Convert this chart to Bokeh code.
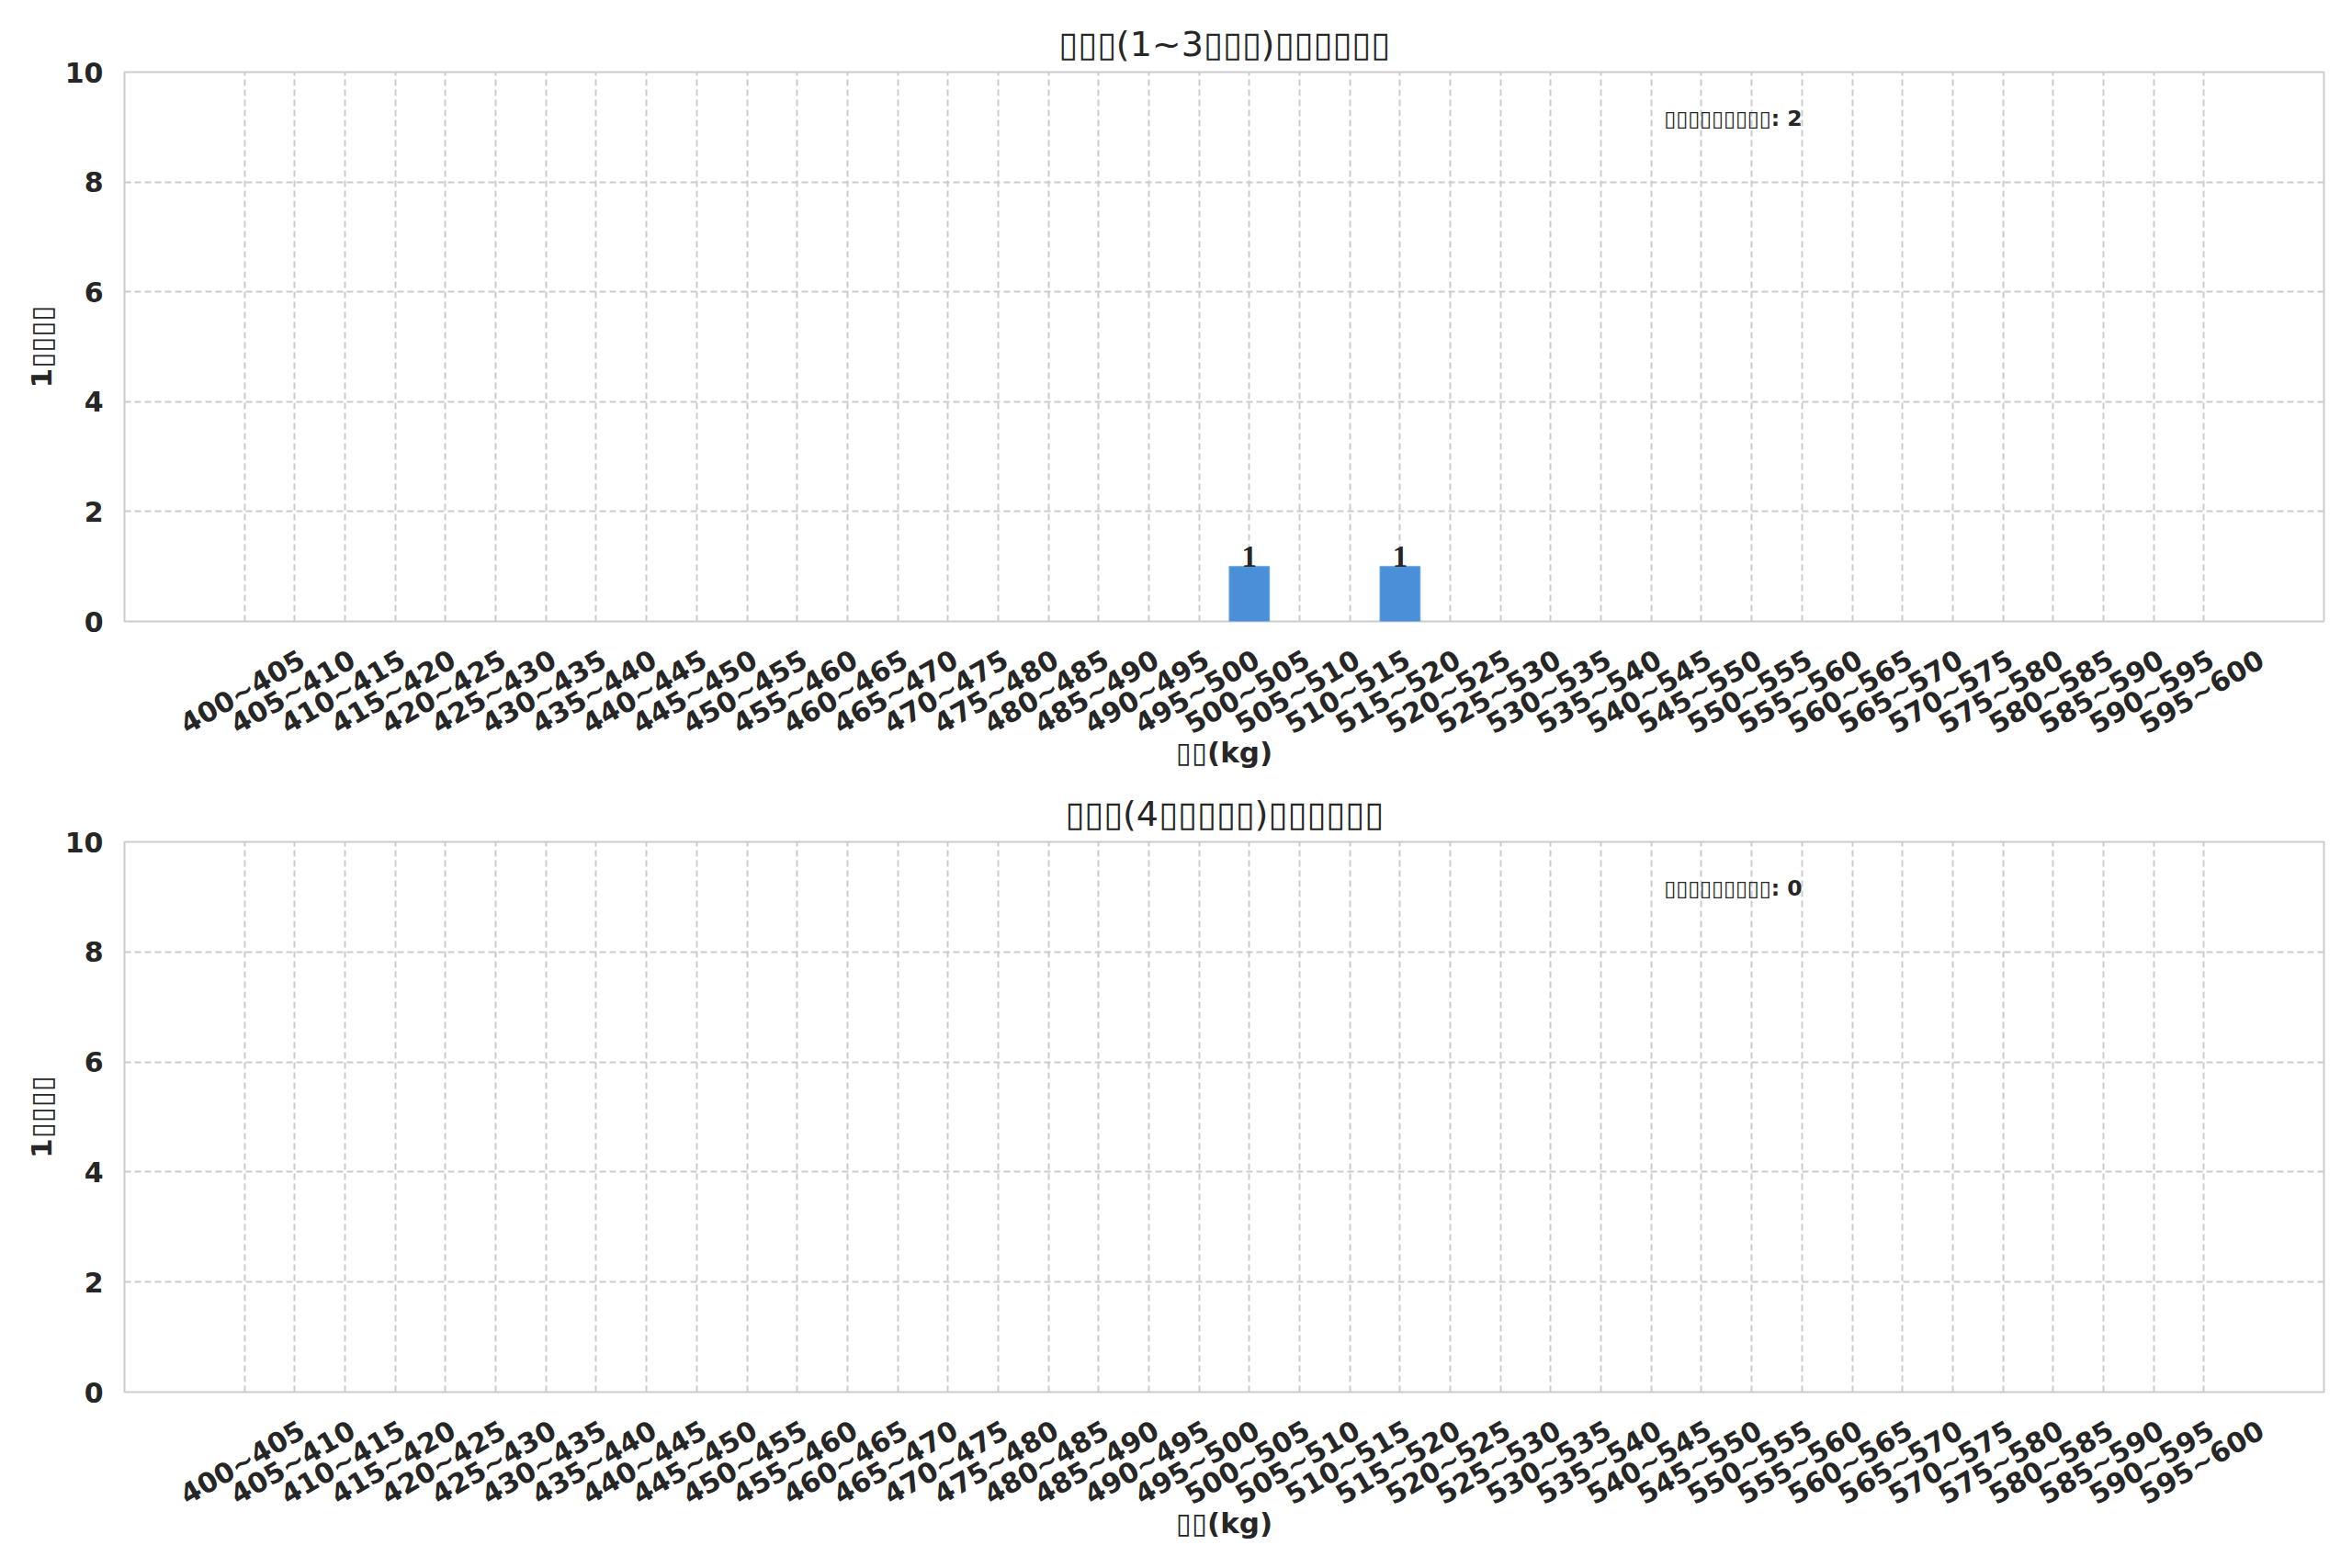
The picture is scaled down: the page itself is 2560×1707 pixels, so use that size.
from bokeh.plotting import figure
from bokeh.models import FixedTicker, Range1d, Label, ColumnDataSource, LabelSet, LinearAxis
from bokeh.layouts import column
from bokeh.embed import file_html
from bokeh.resources import INLINE
import math

# ---- data ----
weight_bins = [
    "400~405", "405~410", "410~415", "415~420", "420~425", "425~430", "430~435", "435~440",
    "440~445", "445~450", "450~455", "455~460", "460~465", "465~470", "470~475", "475~480",
    "480~485", "485~490", "490~495", "495~500", "500~505", "505~510", "510~515", "515~520",
    "520~525", "525~530", "530~535", "535~540", "540~545", "545~550", "550~555", "555~560",
    "560~565", "565~570", "570~575", "575~580", "580~585", "585~590", "590~595", "595~600",
]
counts_young = [0, 0, 0, 0, 0, 0, 0, 0, 0, 0,
                0, 0, 0, 0, 0, 0, 0, 0, 0, 0,
                1, 0, 0, 1, 0, 0, 0, 0, 0, 0,
                0, 0, 0, 0, 0, 0, 0, 0, 0, 0]
counts_old = [0, 0, 0, 0, 0, 0, 0, 0, 0, 0,
              0, 0, 0, 0, 0, 0, 0, 0, 0, 0,
              0, 0, 0, 0, 0, 0, 0, 0, 0, 0,
              0, 0, 0, 0, 0, 0, 0, 0, 0, 0]
B = "\u25af"
titles = [B * 3 + "(1~3" + B * 3 + ")" + B * 6,
          B * 3 + "(4" + B * 5 + ")" + B * 6]
totals = [2, 0]
y_ticks = [0, 2, 4, 6, 8, 10]
x_label = B * 2 + "(kg)"
y_label = "1" + B * 4
note_label = B * 9

TEXT = "#262626"
BAR = "#4a90d9"
GRID = "#cccccc"
FONT = "DejaVu Sans"

n = len(weight_bins)
bar_w = 0.8
margin = 0.05 * ((n - 1 + bar_w / 2) - (-bar_w / 2))
x0, x1 = -bar_w / 2 - margin, n - 1 + bar_w / 2 + margin
LABEL_SHIFT = 1.15  # centres the rotated tick labels on their ticks


def make_plot(counts, title, total, top_border, frame_h):
    p = figure(output_backend="svg", toolbar_location=None,
               frame_width=2394, frame_height=frame_h,
               min_border_left=135, min_border_right=23,
               min_border_top=top_border, min_border_bottom=170,
               x_range=Range1d(x0, x1), y_range=Range1d(0, 10),
               background_fill_color="white", border_fill_color="white")
    p.title.text = title
    p.title.align = "center"
    p.title.text_font = FONT
    p.title.text_font_size = "38px"
    p.title.text_font_style = "normal"
    p.title.text_color = TEXT
    p.title.standoff = 18

    p.outline_line_color = GRID
    p.outline_line_width = 2

    src = ColumnDataSource(dict(x=list(range(n)), top=counts,
                                edge=[1.0 if c > 0 else 0.0 for c in counts],
                                lab=[str(c) if c > 0 else "" for c in counts]))
    p.vbar(x="x", top="top", width=bar_w, source=src,
           fill_color=BAR, line_color="#6aa3e0", line_width=1, line_alpha="edge")
    p.add_layout(LabelSet(x="x", y="top", text="lab", source=src,
                          text_align="center", text_baseline="bottom",
                          text_font=FONT, text_font_size="33px",
                          text_font_style="bold", text_color=TEXT))

    ticks = list(range(n))
    # main x axis only drives the grid
    p.xaxis[0].visible = False
    p.xgrid[0].ticker = FixedTicker(ticks=ticks)
    # label axis, on a range offset so that the rotated labels sit centred on the ticks
    p.extra_x_ranges = {"lab": Range1d(x0 - LABEL_SHIFT, x1 - LABEL_SHIFT)}
    xa = LinearAxis(x_range_name="lab", ticker=FixedTicker(ticks=ticks))
    xa.major_label_overrides = {i: s for i, s in enumerate(weight_bins)}
    xa.major_label_orientation = math.pi / 6
    xa.axis_label = x_label
    p.add_layout(xa, "below")

    ya = p.yaxis[0]
    ya.ticker = FixedTicker(ticks=y_ticks)
    ya.axis_label = y_label
    for ax in (xa, ya):
        ax.axis_line_color = None
        ax.major_tick_line_color = None
        ax.minor_tick_line_color = None
        ax.major_label_text_font = FONT
        ax.major_label_text_font_size = "30px"
        ax.major_label_text_font_style = "bold"
        ax.major_label_text_color = TEXT
        ax.axis_label_text_font = FONT
        ax.axis_label_text_font_size = "31px"
        ax.axis_label_text_font_style = "bold"
        ax.axis_label_text_color = TEXT
    xa.major_label_standoff = 33
    xa.axis_label_standoff = -23
    ya.major_label_standoff = 17
    ya.axis_label_standoff = 5

    for g in (p.xgrid[0], p.ygrid[0]):
        g.grid_line_color = GRID
        g.grid_line_width = 2
        g.grid_line_dash = "7 4"

    p.add_layout(Label(x=x0 + 0.7 * (x1 - x0), y=9.15,
                       text=f"{note_label}: {total}",
                       text_font=FONT, text_font_size="23.5px",
                       text_font_style="bold", text_color=TEXT,
                       text_baseline="alphabetic", text_align="left"))
    return p


p1 = make_plot(counts_young, titles[0], totals[0], 78, 598)
p2 = make_plot(counts_old, titles[1], totals[1], 70, 599)
layout = column(p1, p2, spacing=0)

open("out.html", "w").write(file_html(layout, INLINE))
